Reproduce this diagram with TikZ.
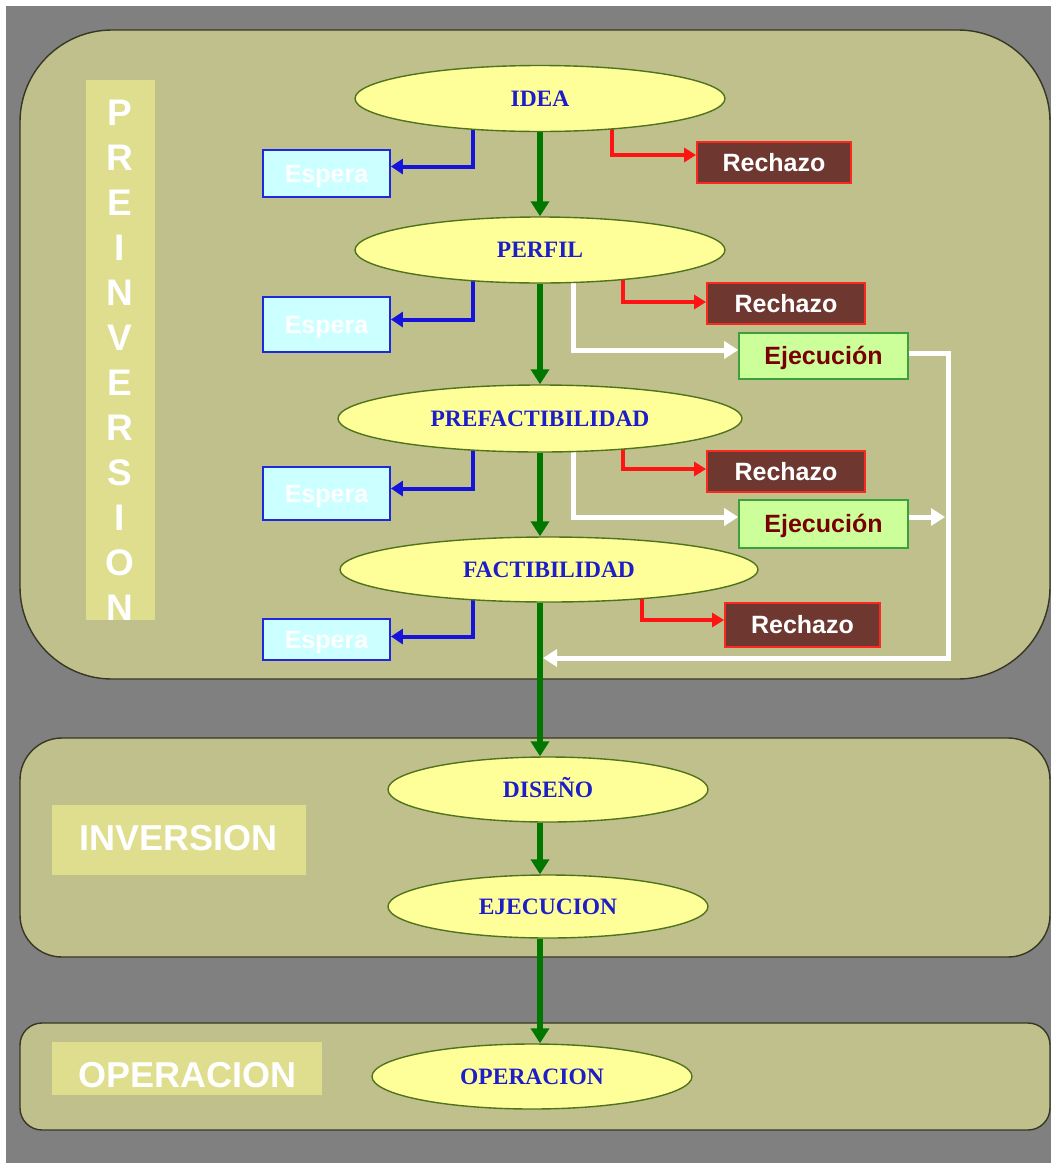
\documentclass[tikz,border=0pt]{standalone}
\usepackage{fontspec}
\setmainfont{Liberation Serif}
\newfontfamily\labelsans{Liberation Sans}
\usetikzlibrary{shapes.geometric,arrows.meta,calc}

\definecolor{bggray}{RGB}{128,128,128}
\definecolor{panel}{RGB}{192,192,140}
\definecolor{panelline}{RGB}{55,55,35}
\definecolor{labelbox}{RGB}{222,222,142}
\definecolor{ellfill}{RGB}{255,255,153}
\definecolor{ellline}{RGB}{80,115,30}
\definecolor{elltext}{RGB}{30,30,200}
\definecolor{esperafill}{RGB}{204,255,255}
\definecolor{esperaline}{RGB}{30,40,220}
\definecolor{rechfill}{RGB}{110,56,48}
\definecolor{rechline}{RGB}{250,40,30}
\definecolor{ejefill}{RGB}{204,255,153}
\definecolor{ejeline}{RGB}{60,160,60}
\definecolor{ejetext}{RGB}{120,0,0}
\definecolor{flowgreen}{RGB}{0,120,0}
\definecolor{flowblue}{RGB}{20,20,220}
\definecolor{flowred}{RGB}{255,20,20}

\pgfdeclarelayer{back}
\pgfdeclarelayer{links}
\pgfsetlayers{back,links,main}

\tikzset{
  stagepanel/.style={draw=panelline, line width=1.4pt, fill=panel},
  phase/.style={ellipse, draw=ellline, line width=1.4pt, fill=ellfill, inner sep=0pt,
    text=elltext, font=\fontsize{23.5}{27}\selectfont\bfseries,
    text height=15.5pt, text depth=0pt},
  sidebox/.style={rectangle, inner sep=0pt, line width=1.8pt,
    font=\labelsans\bfseries\fontsize{25}{30}\selectfont,
    text height=17.9pt, text depth=0pt},
  esperabox/.style={sidebox, draw=esperaline, fill=esperafill, text=white, minimum width=127pt},
  rechazobox/.style={sidebox, draw=rechline, fill=rechfill, text=white},
  ejecbox/.style={sidebox, draw=ejeline, fill=ejefill, text=ejetext, line width=1.6pt,
    minimum width=169pt},
  tagbox/.style={rectangle, fill=labelbox, inner sep=0pt},
  tagtext/.style={text=white, inner sep=0pt, font=\labelsans\bfseries\fontsize{36}{40}\selectfont},
  vletter/.style={text=white, inner sep=0pt, font=\labelsans\bfseries\fontsize{37}{40}\selectfont},
  mainflow/.style={draw=flowgreen, line width=5.5pt, -{Triangle[length=15pt,width=18pt]}},
  waitflow/.style={draw=flowblue, line width=4pt, -{Triangle[length=12pt,width=15pt]}},
  rejectflow/.style={draw=flowred, line width=3.5pt, -{Triangle[length=12pt,width=14pt]}},
  execflow/.style={draw=white, line width=5pt, -{Triangle[length=14pt,width=17pt]}},
}

\begin{document}
\begin{tikzpicture}[x=1pt,y=-1pt]
\useasboundingbox (0,0) rectangle (1051,1163);

% backdrop and the three stage panels
\begin{pgfonlayer}{back}
  \fill[white] (0,0) rectangle (1051,1163);
  \fill[bggray] (6,6) rectangle (1051,1163);
  \draw[stagepanel, rounded corners=92pt] (20,30) rectangle (1050,679);
  \draw[stagepanel, rounded corners=42pt] (20,738) rectangle (1050,957);
  \draw[stagepanel, rounded corners=22pt] (20,1023) rectangle (1050,1130);
\end{pgfonlayer}

% stage titles
\node[tagbox, minimum width=69pt, minimum height=540pt] (pretag) at (120.5,350) {};
\foreach \ch [count=\i] in {P,R,E,I,N,V,E,R,S,I,O,N}
  \node[vletter] (pre\i) at (120,{113+45*(\i-1)}) {\ch};
\node[tagbox, minimum width=254pt, minimum height=70pt] (invtag) at (179,840) {};
\node[tagtext] (invtext) at (178.5,838.5) {INVERSION};
\node[tagbox, minimum width=270pt, minimum height=53pt] (optag) at (187,1068.5) {};
\node[tagtext] (optext) at (187.5,1075.5) {OPERACION};

% project phases
\node[phase, minimum width=370pt, minimum height=66pt] (idea)    at (540,98.5)   {IDEA};
\node[phase, minimum width=370pt, minimum height=66pt] (perfil)  at (540,250)    {PERFIL};
\node[phase, minimum width=404pt, minimum height=67pt] (prefact) at (540,418.5)  {PREFACTIBILIDAD};
\node[phase, minimum width=418pt, minimum height=65pt] (fact)    at (549,569.5)  {FACTIBILIDAD};
\node[phase, minimum width=320pt, minimum height=65pt] (diseno)  at (548,789.5)  {DISEÑO};
\node[phase, minimum width=320pt, minimum height=63pt] (ejec)    at (548,906.5)  {EJECUCION};
\node[phase, minimum width=320pt, minimum height=65pt] (oper)    at (532,1076.5) {OPERACION};

% side outcomes
\node[esperabox, minimum height=47pt] (esp1) at (326.5,173.5) {Espera};
\node[esperabox, minimum height=55pt] (esp2) at (326.5,324.5) {Espera};
\node[esperabox, minimum height=53pt] (esp3) at (326.5,493.5) {Espera};
\node[esperabox, minimum height=41pt] (esp4) at (326.5,639.5) {Espera};

\node[rechazobox, minimum width=154pt, minimum height=41pt] (rej1) at (774,162.5) {Rechazo};
\node[rechazobox, minimum width=158pt, minimum height=41pt] (rej2) at (786,303.5) {Rechazo};
\node[rechazobox, minimum width=158pt, minimum height=41pt] (rej3) at (786,471.5) {Rechazo};
\node[rechazobox, minimum width=155pt, minimum height=44pt] (rej4) at (802.5,625) {Rechazo};

\node[ejecbox, minimum height=46pt] (exe1) at (823.5,356) {Ejecución};
\node[ejecbox, minimum height=48pt] (exe2) at (823.5,524) {Ejecución};

% guide columns for the connectors
\coordinate (spine) at (540,0);
\coordinate (waitx) at (473,0);
\coordinate (rejx)  at (612,0);
\coordinate (rejxb) at (623,0);
\coordinate (rejxc) at (642,0);
\coordinate (exex)  at (573,0);
\coordinate (returnx) at (948,0);
\coordinate (stopx) at (945,0);
\coordinate (merge) at (543,658);

\begin{pgfonlayer}{links}
  % main sequence
  \draw[mainflow] (idea.south)            -- (perfil.north);
  \draw[mainflow] (perfil.south)          -- (prefact.north);
  \draw[mainflow] (prefact.south)         -- (fact.north -| spine);
  \draw[mainflow] (fact.south -| spine)   -- (diseno.north -| spine);
  \draw[mainflow] (diseno.south -| spine) -- (ejec.north -| spine);
  \draw[mainflow] (ejec.south -| spine)   -- (oper.north -| spine);

  % postponed
  \draw[waitflow] (idea.center -| waitx)    |- ([yshift=7pt]esp1.east);
  \draw[waitflow] (perfil.center -| waitx)  |- ([yshift=5pt]esp2.east);
  \draw[waitflow] (prefact.center -| waitx) |- ([yshift=5pt]esp3.east);
  \draw[waitflow] (fact.center -| waitx)    |- ([yshift=3pt]esp4.east);

  % rejected
  \draw[rejectflow] (idea.center -| rejx)     |- ([yshift=7.5pt]rej1.west);
  \draw[rejectflow] (perfil.center -| rejxb)  |- ([yshift=1.5pt]rej2.west);
  \draw[rejectflow] (prefact.center -| rejxb) |- ([yshift=2.5pt]rej3.west);
  \draw[rejectflow] (fact.center -| rejxc)    |- ([yshift=5pt]rej4.west);

  % direct execution
  \draw[execflow] (perfil.center -| exex)  |- ([yshift=6pt]exe1.west);
  \draw[execflow] (prefact.center -| exex) |- ([yshift=7pt]exe2.west);
  \draw[execflow] ([yshift=3pt]exe1.east) -- ([yshift=3pt]exe1.east -| returnx)
                  -- (returnx |- merge) -- (merge);
  \draw[execflow] ([yshift=7pt]exe2.east) -- ([yshift=7pt]exe2.east -| stopx);
\end{pgfonlayer}
\end{tikzpicture}
\end{document}
